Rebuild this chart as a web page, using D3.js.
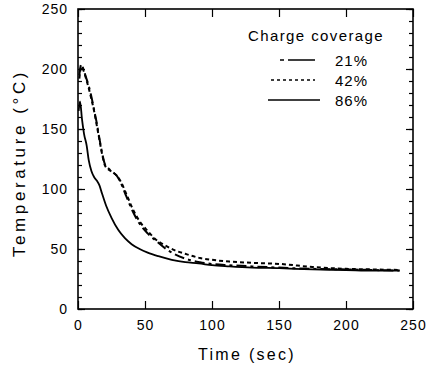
<!DOCTYPE html>
<html><head><meta charset="utf-8">
<script src="https://cdn.jsdelivr.net/npm/d3@7"></script>
<style>
body{margin:0;background:#fff;}
text{font-family:"Liberation Sans",Arial,Helvetica,sans-serif;fill:#000;}
</style></head>
<body><svg id="c" width="426" height="369"></svg>
<script>
const xTicks = [0, 50, 100, 150, 200, 250];
const yTicks = [0, 50, 100, 150, 200, 250];
const seriesNames = ["21%", "42%", "86%"];

const t21 = [1, 2.5, 4, 6, 8, 10, 12, 14, 16, 18, 20, 23, 26, 29, 32, 36, 41, 46, 52, 58, 67, 80, 91, 100, 113, 130, 150, 175, 200, 220, 240];
const v21 = [195, 204, 200, 193, 186, 177, 166, 155, 142, 130, 121, 117, 114, 111, 105, 94, 81, 71, 63, 57, 49, 42, 39, 37.5, 36.5, 35.5, 34.5, 33.5, 33, 32.5, 32];

const t42 = [1, 2.5, 4, 6, 8, 10, 12, 14, 16, 18, 20, 23, 26, 29, 32, 36, 41, 46, 52, 58, 65, 72, 80, 91, 100, 113, 130, 151, 175, 200, 220, 240];
const v42 = [192, 202, 199, 192, 184, 175, 165, 153, 141, 129, 120, 116, 114, 111, 106, 96, 83, 73, 65, 58, 53, 49, 46, 42.5, 41, 39.5, 38.5, 37.5, 35, 33.5, 33, 32.5];

const t86 = [0.5, 1.5, 3, 4.5, 6.5, 8, 10, 12, 14, 16, 18, 21, 25, 30, 35, 40, 46, 52, 60, 70, 80, 90, 100, 113, 130, 150, 175, 200, 220, 240];
const v86 = [165, 173, 158, 146, 136, 124, 115, 110, 107, 103, 96, 86, 76, 66, 59, 54, 50, 47, 44, 41, 39, 38, 36.5, 35.5, 34.5, 34, 33, 32.5, 32, 32];

const dashes = ["10,4,3,4", "4,3", null];
const legendDashes = ["4,4,30", "3,3", null];

const svg = d3.select("#c");
const L = 78, R = 413, T = 9, B = 309;
const x = d3.scaleLinear().domain([0, 250]).range([L, R]);
const y = d3.scaleLinear().domain([0, 250]).range([B, T]);

// minor ticks left/right
const minor = d3.range(0, 251, 10);
svg.append("g").attr("transform", `translate(${L},0)`)
  .call(d3.axisLeft(y).tickValues(minor).tickSize(-4).tickFormat(""))
  .call(g => g.select(".domain").remove())
  .selectAll("line").attr("stroke-width", 1.2);
svg.append("g").attr("transform", `translate(${R},0)`)
  .call(d3.axisRight(y).tickValues(minor).tickSize(-4).tickFormat(""))
  .call(g => g.select(".domain").remove())
  .selectAll("line").attr("stroke-width", 1.2);
svg.append("g").attr("transform", `translate(${R},0)`)
  .call(d3.axisRight(y).tickValues(yTicks).tickSize(-7).tickFormat(""))
  .call(g => g.select(".domain").remove())
  .selectAll("line").attr("stroke-width", 1.2);

// left major with labels
const gy = svg.append("g").attr("transform", `translate(${L},0)`)
  .call(d3.axisLeft(y).tickValues(yTicks).tickSize(-7).tickPadding(10));
gy.select(".domain").remove();
gy.selectAll("line").attr("stroke-width", 1.2);
gy.selectAll("text").attr("font-size", 14).style("letter-spacing", "1px")
  .attr("font-family", "Liberation Sans, Arial, sans-serif");

// bottom
const gx = svg.append("g").attr("transform", `translate(0,${B})`)
  .call(d3.axisBottom(x).tickValues(xTicks).tickSize(-8).tickPadding(11));
gx.select(".domain").remove();
gx.selectAll("line").attr("stroke-width", 1.2);
gx.selectAll("text").attr("font-size", 14).style("letter-spacing", "1px")
  .attr("font-family", "Liberation Sans, Arial, sans-serif");

// top
svg.append("g").attr("transform", `translate(0,${T})`)
  .call(d3.axisTop(x).tickValues(xTicks).tickSize(-8).tickFormat(""))
  .call(g => g.select(".domain").remove())
  .selectAll("line").attr("stroke-width", 1.2);

// frame
svg.append("rect").attr("x", L).attr("y", T).attr("width", R - L).attr("height", B - T)
  .attr("fill", "none").attr("stroke", "#000").attr("stroke-width", 1.6);

// curves
const line = d3.line().x(d => x(d[0])).y(d => y(d[1])).curve(d3.curveMonotoneX);
const data = [d3.zip(t21, v21), d3.zip(t42, v42), d3.zip(t86, v86)];
data.forEach((d, i) => {
  svg.append("path").datum(d).attr("d", line)
    .attr("fill", "none").attr("stroke", "#000")
    .attr("stroke-width", i === 2 ? 1.8 : 2)
    .attr("stroke-dasharray", dashes[i]);
});

// legend
svg.append("text").attr("x", 248).attr("y", 41).attr("font-size", 15)
  .style("letter-spacing", "1.4px").text("Charge coverage");
const legX0 = [280, 271, 268], legX1 = [315, 315, 320];
seriesNames.forEach((s, i) => {
  const yy = 60 + i * 20;
  svg.append("line").attr("x1", legX0[i]).attr("x2", legX1[i]).attr("y1", yy).attr("y2", yy)
    .attr("stroke", "#000").attr("stroke-width", 1.6).attr("stroke-dasharray", legendDashes[i]);
  svg.append("text").attr("x", 335).attr("y", yy + 5.5).attr("font-size", 15)
    .style("letter-spacing", "1px").text(s);
});

// axis titles
svg.append("text").attr("x", 247).attr("y", 360).attr("text-anchor", "middle")
  .attr("font-size", 16).style("letter-spacing", "2.3px").text("Time (sec)");
svg.append("text").attr("transform", "translate(25,163) rotate(-90)").attr("text-anchor", "middle")
  .attr("font-size", 17).style("letter-spacing", "3.6px").text("Temperature (°C)");
</script></body></html>
